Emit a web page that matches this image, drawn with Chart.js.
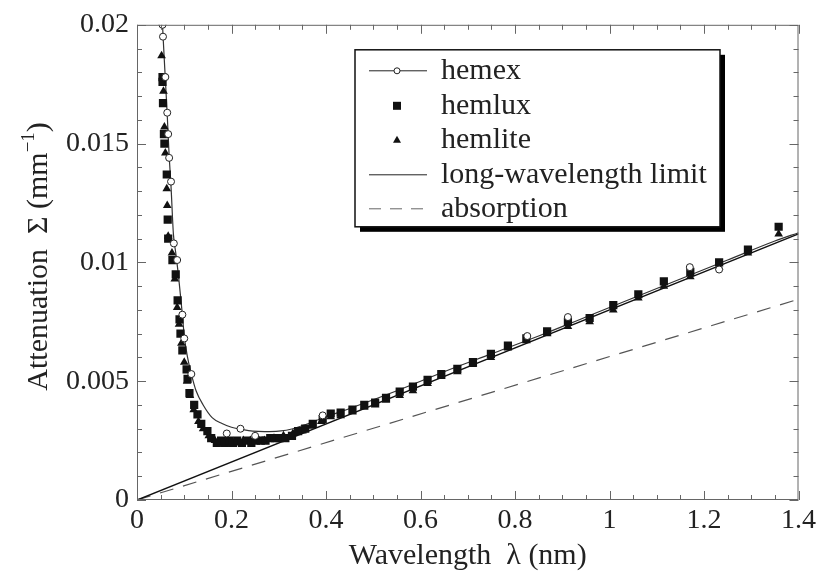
<!DOCTYPE html>
<html>
<head>
<meta charset="utf-8">
<script src="https://cdn.jsdelivr.net/npm/chart.js@4.4.1/dist/chart.umd.min.js"></script>
<style>
  html, body { margin: 0; padding: 0; background: #fff; }
  #wrap { width: 820px; height: 574px; }
</style>
</head>
<body>
<div id="wrap"><canvas id="attenuationChart" width="820" height="574"></canvas></div>
<script>
// wavelength (nm) / attenuation (1/mm)
const hemexCurveX = [0.054, 0.056, 0.060, 0.064, 0.068, 0.072, 0.077, 0.082, 0.088, 0.096, 0.100, 0.107, 0.115, 0.125, 0.140, 0.159, 0.180, 0.200, 0.220, 0.245, 0.270, 0.300, 0.330, 0.360, 0.393, 0.45, 0.55, 0.65, 0.75, 0.85, 0.95, 1.05, 1.15, 1.25, 1.35, 1.40];
const hemexCurveY = [0.0200, 0.0192, 0.0177, 0.0162, 0.0145, 0.0132, 0.0112, 0.0104, 0.0094, 0.0078, 0.0069, 0.0060, 0.0053, 0.0046, 0.0040, 0.00347, 0.00322, 0.00306, 0.00298, 0.00290, 0.00288, 0.0029, 0.0030, 0.0032, 0.00345, 0.00385, 0.0046, 0.0054, 0.00615, 0.0069, 0.0077, 0.0085, 0.0093, 0.0101, 0.0109, 0.01125];

const hemexPointsX = [0.054, 0.055, 0.060, 0.064, 0.066, 0.068, 0.072, 0.078, 0.085, 0.096, 0.100, 0.115, 0.190, 0.219, 0.250, 0.393, 0.826, 0.912, 1.170, 1.232];
const hemexPointsY = [0.0200, 0.0195, 0.0178, 0.0163, 0.0154, 0.0144, 0.0134, 0.0108, 0.0101, 0.0078, 0.0068, 0.0053, 0.0028, 0.0030, 0.0027, 0.00356, 0.0069, 0.0077, 0.0098, 0.0097];

const hemluxX = [0.054, 0.054, 0.055, 0.057, 0.058, 0.063, 0.065, 0.066, 0.075, 0.082, 0.086, 0.090, 0.092, 0.096, 0.105, 0.107, 0.111, 0.121, 0.128, 0.136, 0.149, 0.157, 0.169, 0.178, 0.186, 0.195, 0.203, 0.212, 0.222, 0.232, 0.242, 0.252, 0.262, 0.272, 0.282, 0.292, 0.302, 0.314, 0.328, 0.341, 0.356, 0.372, 0.393, 0.410, 0.431, 0.456, 0.481, 0.504, 0.527, 0.556, 0.584, 0.615, 0.644, 0.678, 0.711, 0.749, 0.785, 0.824, 0.868, 0.912, 0.958, 1.008, 1.061, 1.115, 1.171, 1.232, 1.293, 1.358];
const hemluxY = [0.0178, 0.0176, 0.0167, 0.0154, 0.0150, 0.0137, 0.0118, 0.0110, 0.0101, 0.0095, 0.0084, 0.0076, 0.0070, 0.0063, 0.0055, 0.0051, 0.0045, 0.0040, 0.0036, 0.0032, 0.0029, 0.0026, 0.0024, 0.0025, 0.0024, 0.0025, 0.0024, 0.0025, 0.0024, 0.0025, 0.0024, 0.0025, 0.0025, 0.0025, 0.0026, 0.0026, 0.0026, 0.0026, 0.0027, 0.0029, 0.0030, 0.0032, 0.0034, 0.00364, 0.00368, 0.0038, 0.0040, 0.0041, 0.0043, 0.00456, 0.00477, 0.00506, 0.0053, 0.00552, 0.0058, 0.00615, 0.0065, 0.0068, 0.0071, 0.0075, 0.00766, 0.0082, 0.00866, 0.0092, 0.0096, 0.0100, 0.01054, 0.0115];

const hemliteX = [0.052, 0.056, 0.058, 0.060, 0.063, 0.064, 0.066, 0.074, 0.080, 0.085, 0.089, 0.094, 0.100, 0.106, 0.112, 0.120, 0.130, 0.140, 0.152, 0.165, 0.180, 0.195, 0.210, 0.225, 0.240, 0.255, 0.270, 0.290, 0.310, 0.330, 0.350, 0.370, 0.390, 0.410, 0.431, 0.456, 0.481, 0.504, 0.527, 0.556, 0.584, 0.615, 0.644, 0.678, 0.711, 0.749, 0.785, 0.824, 0.868, 0.912, 0.958, 1.008, 1.061, 1.115, 1.171, 1.232, 1.293, 1.358];
const hemliteY = [0.0187, 0.0172, 0.0157, 0.0146, 0.0131, 0.0124, 0.0111, 0.0104, 0.0093, 0.0081, 0.0074, 0.0066, 0.0058, 0.0050, 0.0044, 0.0038, 0.0033, 0.0030, 0.0027, 0.0025, 0.0024, 0.0024, 0.0024, 0.0025, 0.0025, 0.0025, 0.0025, 0.0026, 0.0027, 0.0028, 0.0029, 0.0031, 0.0033, 0.0035, 0.00355, 0.0037, 0.0039, 0.0040, 0.0042, 0.0044, 0.0046, 0.0049, 0.0052, 0.0054, 0.0057, 0.0060, 0.0064, 0.0067, 0.0070, 0.0073, 0.0075, 0.0080, 0.0085, 0.0090, 0.0094, 0.0098, 0.0104, 0.0112];

const limitX = [0, 1.4];
const limitY = [0, 0.0112];
const absorptionX = [0, 1.4];
const absorptionY = [0, 0.00845];

const xTickValues = [0, 0.2, 0.4, 0.6, 0.8, 1, 1.2, 1.4];
const yTickValues = [0, 0.005, 0.01, 0.015, 0.02];
const legendLabels = ['hemex', 'hemlux', 'hemlite', 'long-wavelength limit', 'absorption'];

const SERIF = '"Liberation Serif", "DejaVu Serif", serif';

function pts(xs, ys) {
  return xs.map((x, i) => ({ x: x, y: ys[i] }));
}

// frame with inward ticks on all four sides
const frameTicks = {
  id: 'frameTicks',
  afterDatasetsDraw(chart) {
    const { ctx, chartArea: a, scales } = chart;
    ctx.save();
    ctx.strokeStyle = '#666';
    ctx.lineWidth = 1;
    ctx.strokeRect(a.left + 0.5, a.top + 0.5, a.right - a.left - 1, a.bottom - a.top - 1);
    ctx.beginPath();
    for (let i = 0; i <= 28; i++) {
      const px = Math.round(scales.x.getPixelForValue(i * 0.05)) + 0.5;
      const len = i % 4 === 0 ? 9 : 5;
      ctx.moveTo(px, a.bottom); ctx.lineTo(px, a.bottom - len);
      ctx.moveTo(px, a.top); ctx.lineTo(px, a.top + len);
    }
    for (let j = 0; j <= 20; j++) {
      const py = Math.round(scales.y.getPixelForValue(j * 0.001)) + 0.5;
      const len = j % 5 === 0 ? 9 : 5;
      ctx.moveTo(a.left, py); ctx.lineTo(a.left + len, py);
      ctx.moveTo(a.right, py); ctx.lineTo(a.right - len, py);
    }
    ctx.stroke();
    ctx.restore();
  }
};

// y title with superscript, and boxed legend with drop shadow
const annotations = {
  id: 'annotations',
  afterDraw(chart) {
    const { ctx, chartArea: a } = chart;
    ctx.save();
    ctx.fillStyle = '#222';
    ctx.translate(39, (a.top + a.bottom) / 2 - 6);
    ctx.rotate(-Math.PI / 2);
    ctx.textBaseline = 'middle';
    ctx.font = '30px ' + SERIF;
    const main = 'Attenuation  \u03A3 (mm';
    const w1 = ctx.measureText(main).width;
    ctx.font = '19px ' + SERIF;
    const sup = '\u22121';
    const w2 = ctx.measureText(sup).width;
    ctx.font = '30px ' + SERIF;
    const w3 = ctx.measureText(')').width;
    let x0 = -(w1 + w2 + w3) / 2;
    ctx.textAlign = 'left';
    ctx.fillText(main, x0, 0);
    ctx.font = '19px ' + SERIF;
    ctx.fillText(sup, x0 + w1, -10);
    ctx.font = '30px ' + SERIF;
    ctx.fillText(')', x0 + w1 + w2, 0);
    ctx.restore();

    // legend
    const bx = a.left + 218, by = a.top + 25, bw = 365, bh = 177;
    ctx.save();
    ctx.fillStyle = '#000';
    ctx.fillRect(bx + 5, by + 5, bw, bh);
    ctx.fillStyle = '#fff';
    ctx.fillRect(bx, by, bw, bh);
    ctx.strokeStyle = '#111';
    ctx.lineWidth = 1.5;
    ctx.strokeRect(bx, by, bw, bh);
    const rowY = [21, 56, 90, 125, 159];
    const sx0 = bx + 14, sx1 = bx + 72, cx = bx + 42;
    ctx.strokeStyle = '#222';
    ctx.fillStyle = '#111';
    rowY.forEach((ry, i) => {
      const y = by + ry;
      if (i === 0 || i === 3) {
        ctx.setLineDash([]);
        ctx.lineWidth = 1;
        ctx.beginPath(); ctx.moveTo(sx0, y); ctx.lineTo(sx1, y); ctx.stroke();
      }
      if (i === 4) {
        ctx.setLineDash([12, 9]);
        ctx.lineWidth = 1;
        ctx.strokeStyle = '#666';
        ctx.beginPath(); ctx.moveTo(sx0, y); ctx.lineTo(sx1, y); ctx.stroke();
        ctx.setLineDash([]);
        ctx.strokeStyle = '#222';
      }
      if (i === 0) {
        ctx.beginPath(); ctx.arc(cx, y, 3, 0, Math.PI * 2);
        ctx.fillStyle = '#fff'; ctx.fill(); ctx.stroke(); ctx.fillStyle = '#111';
      }
      if (i === 1) ctx.fillRect(cx - 4, y - 4, 8, 8);
      if (i === 2) {
        ctx.beginPath(); ctx.moveTo(cx, y - 4); ctx.lineTo(cx + 4, y + 3); ctx.lineTo(cx - 4, y + 3); ctx.closePath(); ctx.fill();
      }
    });
    ctx.font = '30px ' + SERIF;
    ctx.fillStyle = '#222';
    ctx.textAlign = 'left';
    ctx.textBaseline = 'middle';
    legendLabels.forEach((t, i) => ctx.fillText(t, bx + 86, by + rowY[i]));
    ctx.restore();
  }
};

const ctx = document.getElementById('attenuationChart').getContext('2d');
new Chart(ctx, {
  type: 'scatter',
  data: {
    datasets: [
      { label: 'hemex', data: pts(hemexPointsX, hemexPointsY), pointStyle: 'circle', pointRadius: 3.5, borderWidth: 1, borderColor: '#222', backgroundColor: '#fff', showLine: false },
      { label: 'hemlux', data: pts(hemluxX, hemluxY), pointStyle: 'rect', pointRadius: 5.8, borderWidth: 0, backgroundColor: '#111', borderColor: '#111', showLine: false },
      { label: 'hemlite', data: pts(hemliteX, hemliteY), pointStyle: 'triangle', pointRadius: 5, borderWidth: 0, backgroundColor: '#111', borderColor: '#111', showLine: false },
      { label: 'hemex curve', data: pts(hemexCurveX, hemexCurveY), showLine: true, pointRadius: 0, borderColor: '#333', borderWidth: 1.2, cubicInterpolationMode: 'monotone' },
      { label: 'long-wavelength limit', data: pts(limitX, limitY), showLine: true, pointRadius: 0, borderColor: '#111', borderWidth: 1.5 },
      { label: 'absorption', data: pts(absorptionX, absorptionY), showLine: true, pointRadius: 0, borderColor: '#555', borderWidth: 1.2, borderDash: [14, 10] }
    ]
  },
  options: {
    responsive: false,
    animation: false,
    layout: { padding: { top: 22, right: 12, left: 0, bottom: 0 } },
    plugins: { legend: { display: false }, tooltip: { enabled: false } },
    scales: {
      x: {
        type: 'linear', min: 0, max: 1.4,
        afterFit: s => { s.height = 74; },
        afterBuildTicks: s => { s.ticks = xTickValues.map(v => ({ value: v })); },
        grid: { display: false, drawTicks: false },
        border: { display: false },
        ticks: { font: { family: SERIF, size: 28 }, color: '#222', padding: 4, maxRotation: 0, callback: v => String(+v.toFixed(3)) },
        title: { display: true, text: 'Wavelength  \u03BB (nm)', font: { family: SERIF, size: 30 }, color: '#222', padding: { top: 0, bottom: 0 } }
      },
      y: {
        type: 'linear', min: 0, max: 0.02,
        afterFit: s => { s.width = 137; },
        afterBuildTicks: s => { s.ticks = yTickValues.map(v => ({ value: v })); },
        grid: { display: false, drawTicks: false },
        border: { display: false },
        ticks: { font: { family: SERIF, size: 28 }, color: '#222', padding: 8, callback: v => String(+v.toFixed(4)) }
      }
    }
  },
  plugins: [frameTicks, annotations]
});
</script>
</body>
</html>
